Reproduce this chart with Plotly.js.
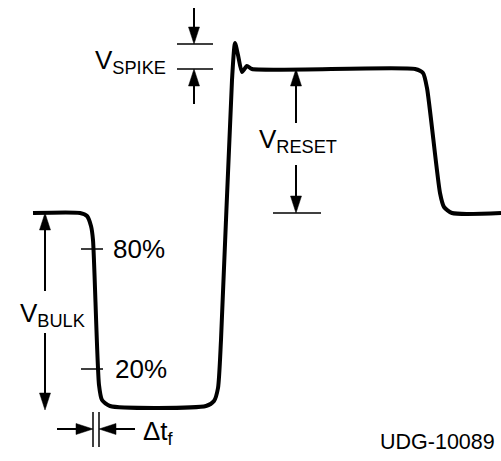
<!DOCTYPE html>
<html>
<head>
<meta charset="utf-8">
<script src="https://cdn.plot.ly/plotly-3.0.1.min.js"></script>
<style>html,body{margin:0;padding:0;background:#fff;}#chart{width:501px;height:461px;}</style>
</head>
<body>
<div id="chart"></div>
<script>
// Waveform (diagram coordinates)
var wave_x = [33, 80, 87, 91, 93, 99, 102, 110, 206, 214, 218, 221, 232, 235, 238, 242, 247, 252, 415, 423, 427, 440, 444, 452, 501];
var wave_y = [213, 213, 216, 226, 240, 385, 400, 406, 406, 401, 388, 340, 80, 43, 55, 72, 66, 69, 69, 73, 88, 193, 207, 213, 213];

// Level markers
var spike_levels = [44, 69];
var reset_levels = [69, 213];
var bulk_levels = [213, 410];
var pct_levels = [249, 369];
var pct_labels = ["80%", "20%"];
var dt_edges = [93, 99];

var labels = ["V<sub>SPIKE</sub>", "V<sub>RESET</sub>", "V<sub>BULK</sub>", "\u0394t<sub>f</sub>", "UDG-10089"];

var FONT = "Liberation Sans, Arial, sans-serif";
var shapes = [];
function seg(x0, y0, x1, y1, w) {
  shapes.push({type: "line", xref: "x", yref: "y", x0: x0, y0: y0, x1: x1, y1: y1,
    line: {color: "black", width: w || 1.5}});
}
function vArrow(x, tail, tip) {
  var d = tip > tail ? 1 : -1, L = 17, hw = 5.5;
  seg(x, tail, x, tip - d * L, 2);
  shapes.push({type: "path", xref: "x", yref: "y",
    path: "M" + (x - hw) + "," + (tip - d * L) + " L" + (x + hw) + "," + (tip - d * L) + " L" + x + "," + tip + " Z",
    fillcolor: "black", line: {color: "black", width: 0.5}});
}
function hArrow(y, tail, tip) {
  var d = tip > tail ? 1 : -1, L = 17, hw = 5.5;
  seg(tail, y, tip - d * L, y, 2);
  shapes.push({type: "path", xref: "x", yref: "y",
    path: "M" + (tip - d * L) + "," + (y - hw) + " L" + (tip - d * L) + "," + (y + hw) + " L" + tip + "," + y + " Z",
    fillcolor: "black", line: {color: "black", width: 0.5}});
}

// V_SPIKE
seg(177, spike_levels[0], 213, spike_levels[0]);
seg(177, spike_levels[1], 213, spike_levels[1]);
vArrow(194, 8, spike_levels[0]);
vArrow(194, 104, spike_levels[1]);
// V_RESET
seg(273, reset_levels[1], 321, reset_levels[1]);
vArrow(296, 123, reset_levels[0]);
vArrow(296, 165, reset_levels[1]);
// V_BULK
vArrow(45, 291, bulk_levels[0]);
vArrow(45, 333, bulk_levels[1]);
// percent ticks
seg(81, pct_levels[0], 103, pct_levels[0]);
seg(81, pct_levels[1], 103, pct_levels[1]);
// delta t
seg(dt_edges[0], 412, dt_edges[0], 447);
seg(dt_edges[1], 412, dt_edges[1], 447);
hArrow(429, 57, dt_edges[0]);
hArrow(429, 135, dt_edges[1]);

function txt(x, y, t, size) {
  return {x: x, y: y, xref: "x", yref: "y", text: t, showarrow: false,
    xanchor: "left", yanchor: "middle", font: {family: FONT, size: size || 26, color: "black"}};
}
var annotations = [
  txt(93, 61, labels[0]),
  txt(257, 140, labels[1]),
  txt(18, 314, labels[2]),
  txt(111, pct_levels[0], pct_labels[0]),
  txt(113, pct_levels[1], pct_labels[1]),
  txt(141, 432, labels[3]),
  txt(378, 442, labels[4], 21.5)
];

var trace = {x: wave_x, y: wave_y, mode: "lines", type: "scatter",
  line: {color: "black", width: 4, shape: "spline", smoothing: 0.6}, hoverinfo: "skip"};

var layout = {
  width: 501, height: 461,
  margin: {l: 0, r: 0, t: 0, b: 0},
  paper_bgcolor: "white", plot_bgcolor: "white",
  showlegend: false,
  xaxis: {range: [0, 501], visible: false, fixedrange: true},
  yaxis: {range: [461, 0], visible: false, fixedrange: true},
  shapes: shapes,
  annotations: annotations
};
Plotly.newPlot("chart", [trace], layout, {staticPlot: true, displayModeBar: false});
</script>
</body>
</html>
